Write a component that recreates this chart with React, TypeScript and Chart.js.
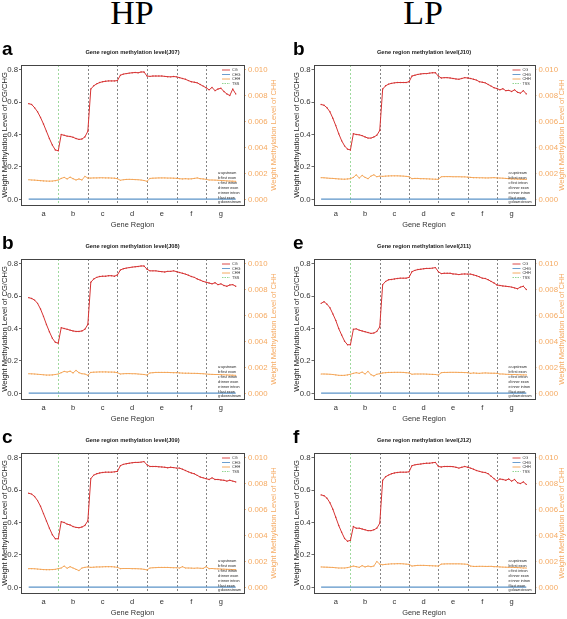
import React, { useEffect, useRef } from "react";
import { Chart, registerables } from "chart.js";
Chart.register(...registerables);

// ---------- data ----------
const REGION_LETTERS = ["a", "b", "c", "d", "e", "f", "g"];
const REGION_CENTERS = [50, 150, 250, 350, 450, 550, 650];
const REGION_BOUNDARIES = [200, 300, 400, 500, 600];
const TSS_POS = 100;
const REGION_KEY = ["a:upstream", "b:first exon", "c:first intron", "d:inner exon", "e:inner intron", "f:last exon", "g:downstream"];
const LEFT_TICKS = [0, 0.2, 0.4, 0.6, 0.8];
const RIGHT_TICKS = [0, 0.002, 0.004, 0.006, 0.008, 0.01];

const BIN_POS = [
  0, 10, 20, 30, 40, 50, 60, 70, 80, 90, 100,
  110, 120, 130, 140, 150, 160, 170, 180, 190, 200,
  210, 220, 230, 240, 250, 260, 270, 280, 290, 300,
  310, 320, 330, 340, 350, 360, 370, 380, 390, 400,
  410, 420, 430, 440, 450, 460, 470, 480, 490, 500,
  510, 520, 530, 540, 550, 560, 570, 580, 590, 600,
  610, 620, 630, 640, 650, 660, 670, 680, 690, 700,
];
const CHG_POS = [0, 100, 200, 300, 400, 500, 600, 700];

const CG_J07 = [
  0.590, 0.585, 0.565, 0.540, 0.505, 0.465, 0.420, 0.375, 0.335, 0.305, 0.300,
  0.400, 0.395, 0.390, 0.388, 0.383, 0.375, 0.370, 0.372, 0.385, 0.420,
  0.680, 0.700, 0.712, 0.720, 0.725, 0.728, 0.730, 0.730, 0.730, 0.732,
  0.765, 0.772, 0.775, 0.778, 0.780, 0.782, 0.780, 0.785, 0.785, 0.760,
  0.758, 0.760, 0.760, 0.760, 0.760, 0.758, 0.756, 0.755, 0.757, 0.755,
  0.750, 0.745, 0.740, 0.732, 0.725, 0.722, 0.718, 0.708, 0.698, 0.688,
  0.675, 0.690, 0.670, 0.680, 0.685, 0.665, 0.650, 0.640, 0.680, 0.650,
];
const CHH_J07 = [
  0.00152, 0.00150, 0.00149, 0.00147, 0.00145, 0.00143, 0.00142, 0.00141, 0.00142, 0.00145, 0.00150,
  0.00162, 0.00170, 0.00158, 0.00172, 0.00160, 0.00150, 0.00158, 0.00150, 0.00178, 0.00165,
  0.00165, 0.00166, 0.00166, 0.00167, 0.00167, 0.00166, 0.00166, 0.00165, 0.00164, 0.00160,
  0.00148, 0.00152, 0.00154, 0.00155, 0.00154, 0.00153, 0.00152, 0.00150, 0.00146, 0.00140,
  0.00162, 0.00164, 0.00165, 0.00166, 0.00166, 0.00166, 0.00165, 0.00165, 0.00164, 0.00163,
  0.00160, 0.00158, 0.00160, 0.00158, 0.00159, 0.00162, 0.00166, 0.00160, 0.00158, 0.00155,
  0.00150, 0.00150, 0.00149, 0.00148, 0.00146, 0.00145, 0.00143, 0.00142, 0.00141, 0.00140,
];
const CHG_J07 = [0.002, 0.002, 0.002, 0.002, 0.002, 0.002, 0.002, 0.002];

const CG_J08 = [
  0.590, 0.585, 0.575, 0.555, 0.520, 0.475, 0.425, 0.380, 0.340, 0.315, 0.310,
  0.405, 0.400, 0.395, 0.390, 0.385, 0.382, 0.382, 0.385, 0.395, 0.425,
  0.685, 0.705, 0.715, 0.720, 0.722, 0.722, 0.725, 0.725, 0.722, 0.730,
  0.760, 0.768, 0.772, 0.775, 0.778, 0.780, 0.782, 0.785, 0.785, 0.765,
  0.755, 0.755, 0.755, 0.752, 0.750, 0.748, 0.752, 0.752, 0.755, 0.750,
  0.745, 0.740, 0.735, 0.728, 0.720, 0.715, 0.705, 0.698, 0.690, 0.685,
  0.680, 0.675, 0.682, 0.670, 0.675, 0.665, 0.660, 0.668, 0.670, 0.660,
];
const CHH_J08 = [
  0.00152, 0.00151, 0.00150, 0.00148, 0.00146, 0.00144, 0.00142, 0.00142, 0.00143, 0.00146, 0.00150,
  0.00160, 0.00170, 0.00165, 0.00172, 0.00158, 0.00178, 0.00160, 0.00152, 0.00150, 0.00140,
  0.00162, 0.00164, 0.00165, 0.00166, 0.00166, 0.00166, 0.00165, 0.00165, 0.00164, 0.00160,
  0.00150, 0.00152, 0.00153, 0.00153, 0.00152, 0.00152, 0.00150, 0.00148, 0.00146, 0.00142,
  0.00158, 0.00160, 0.00162, 0.00162, 0.00162, 0.00162, 0.00162, 0.00161, 0.00160, 0.00160,
  0.00158, 0.00157, 0.00156, 0.00156, 0.00155, 0.00155, 0.00154, 0.00153, 0.00152, 0.00150,
  0.00148, 0.00147, 0.00146, 0.00146, 0.00145, 0.00144, 0.00143, 0.00142, 0.00141, 0.00140,
];
const CHG_J08 = [0.002, 0.002, 0.002, 0.002, 0.002, 0.002, 0.002, 0.002];

const CG_J09 = [
  0.580, 0.575, 0.560, 0.535, 0.500, 0.455, 0.410, 0.365, 0.325, 0.300, 0.300,
  0.405, 0.400, 0.390, 0.385, 0.375, 0.370, 0.368, 0.372, 0.382, 0.410,
  0.670, 0.692, 0.700, 0.705, 0.708, 0.710, 0.710, 0.710, 0.712, 0.715,
  0.750, 0.758, 0.762, 0.765, 0.768, 0.770, 0.770, 0.772, 0.775, 0.755,
  0.745, 0.745, 0.745, 0.743, 0.742, 0.740, 0.737, 0.740, 0.738, 0.735,
  0.735, 0.728, 0.720, 0.712, 0.705, 0.700, 0.690, 0.680, 0.675, 0.670,
  0.665, 0.675, 0.665, 0.665, 0.662, 0.660, 0.655, 0.660, 0.655, 0.650,
];
const CHH_J09 = [
  0.00145, 0.00145, 0.00144, 0.00142, 0.00140, 0.00138, 0.00137, 0.00137, 0.00138, 0.00140, 0.00145,
  0.00150, 0.00165, 0.00148, 0.00160, 0.00150, 0.00140, 0.00130, 0.00150, 0.00155, 0.00158,
  0.00155, 0.00156, 0.00158, 0.00158, 0.00159, 0.00160, 0.00160, 0.00160, 0.00158, 0.00155,
  0.00145, 0.00146, 0.00146, 0.00146, 0.00145, 0.00145, 0.00144, 0.00143, 0.00140, 0.00135,
  0.00150, 0.00152, 0.00153, 0.00154, 0.00154, 0.00154, 0.00154, 0.00153, 0.00152, 0.00152,
  0.00150, 0.00160, 0.00150, 0.00150, 0.00149, 0.00148, 0.00150, 0.00148, 0.00147, 0.00160,
  0.00145, 0.00146, 0.00144, 0.00143, 0.00142, 0.00141, 0.00140, 0.00139, 0.00138, 0.00138,
];
const CHG_J09 = [0.002, 0.002, 0.002, 0.002, 0.002, 0.002, 0.002, 0.002];

const CG_J10 = [
  0.585, 0.580, 0.565, 0.540, 0.500, 0.455, 0.405, 0.362, 0.330, 0.310, 0.305,
  0.405, 0.400, 0.398, 0.393, 0.385, 0.378, 0.378, 0.385, 0.395, 0.425,
  0.680, 0.700, 0.710, 0.715, 0.718, 0.720, 0.720, 0.720, 0.720, 0.725,
  0.760, 0.765, 0.770, 0.773, 0.775, 0.775, 0.778, 0.780, 0.780, 0.760,
  0.748, 0.750, 0.750, 0.748, 0.745, 0.742, 0.740, 0.745, 0.750, 0.748,
  0.745, 0.740, 0.735, 0.725, 0.722, 0.718, 0.708, 0.698, 0.688, 0.683,
  0.675, 0.682, 0.670, 0.672, 0.665, 0.675, 0.660, 0.655, 0.670, 0.650,
];
const CHH_J10 = [
  0.00168, 0.00167, 0.00165, 0.00163, 0.00162, 0.00160, 0.00158, 0.00157, 0.00156, 0.00158, 0.00160,
  0.00170, 0.00190, 0.00165, 0.00185, 0.00170, 0.00160, 0.00180, 0.00190, 0.00175, 0.00180,
  0.00178, 0.00180, 0.00181, 0.00182, 0.00182, 0.00182, 0.00181, 0.00180, 0.00178, 0.00175,
  0.00160, 0.00162, 0.00162, 0.00160, 0.00160, 0.00159, 0.00158, 0.00157, 0.00156, 0.00155,
  0.00175, 0.00176, 0.00176, 0.00176, 0.00175, 0.00175, 0.00175, 0.00174, 0.00174, 0.00172,
  0.00170, 0.00168, 0.00168, 0.00167, 0.00167, 0.00166, 0.00166, 0.00167, 0.00168, 0.00166,
  0.00165, 0.00164, 0.00162, 0.00160, 0.00158, 0.00158, 0.00157, 0.00156, 0.00155, 0.00155,
];
const CHG_J10 = [0.002, 0.002, 0.002, 0.002, 0.002, 0.002, 0.002, 0.002];

const CG_J11 = [
  0.555, 0.565, 0.550, 0.528, 0.490, 0.450, 0.400, 0.360, 0.322, 0.300, 0.300,
  0.395, 0.398, 0.390, 0.385, 0.380, 0.375, 0.370, 0.372, 0.382, 0.410,
  0.670, 0.690, 0.700, 0.702, 0.705, 0.708, 0.710, 0.710, 0.710, 0.715,
  0.750, 0.758, 0.763, 0.765, 0.768, 0.770, 0.770, 0.772, 0.775, 0.750,
  0.738, 0.740, 0.740, 0.740, 0.736, 0.735, 0.732, 0.735, 0.736, 0.735,
  0.735, 0.730, 0.725, 0.718, 0.710, 0.708, 0.700, 0.690, 0.680, 0.668,
  0.665, 0.662, 0.660, 0.658, 0.655, 0.650, 0.645, 0.655, 0.660, 0.640,
];
const CHH_J11 = [
  0.00150, 0.00150, 0.00149, 0.00148, 0.00146, 0.00143, 0.00140, 0.00139, 0.00140, 0.00143, 0.00148,
  0.00155, 0.00160, 0.00155, 0.00165, 0.00150, 0.00170, 0.00145, 0.00135, 0.00148, 0.00152,
  0.00158, 0.00160, 0.00162, 0.00162, 0.00163, 0.00163, 0.00163, 0.00162, 0.00160, 0.00158,
  0.00148, 0.00150, 0.00150, 0.00150, 0.00150, 0.00149, 0.00148, 0.00147, 0.00146, 0.00142,
  0.00160, 0.00162, 0.00162, 0.00163, 0.00163, 0.00163, 0.00162, 0.00162, 0.00161, 0.00160,
  0.00155, 0.00158, 0.00156, 0.00155, 0.00157, 0.00158, 0.00157, 0.00156, 0.00156, 0.00155,
  0.00150, 0.00150, 0.00148, 0.00147, 0.00146, 0.00146, 0.00145, 0.00144, 0.00143, 0.00143,
];
const CHG_J11 = [0.002, 0.002, 0.002, 0.002, 0.002, 0.002, 0.002, 0.002];

const CG_J12 = [
  0.570, 0.565, 0.550, 0.522, 0.482, 0.432, 0.382, 0.340, 0.302, 0.285, 0.290,
  0.375, 0.365, 0.365, 0.360, 0.355, 0.350, 0.350, 0.355, 0.365, 0.395,
  0.660, 0.682, 0.692, 0.700, 0.705, 0.708, 0.710, 0.710, 0.710, 0.712,
  0.750, 0.755, 0.758, 0.760, 0.763, 0.765, 0.765, 0.768, 0.770, 0.745,
  0.742, 0.745, 0.745, 0.745, 0.744, 0.740, 0.735, 0.740, 0.745, 0.740,
  0.735, 0.728, 0.720, 0.715, 0.710, 0.708, 0.700, 0.685, 0.670, 0.655,
  0.668, 0.665, 0.660, 0.668, 0.655, 0.665, 0.645, 0.640, 0.650, 0.635,
];
const CHH_J12 = [
  0.00158, 0.00157, 0.00156, 0.00155, 0.00154, 0.00152, 0.00150, 0.00150, 0.00150, 0.00153, 0.00158,
  0.00165, 0.00160, 0.00155, 0.00168, 0.00158, 0.00165, 0.00160, 0.00165, 0.00200, 0.00180,
  0.00175, 0.00178, 0.00180, 0.00182, 0.00182, 0.00183, 0.00183, 0.00182, 0.00180, 0.00178,
  0.00165, 0.00168, 0.00170, 0.00170, 0.00170, 0.00169, 0.00168, 0.00167, 0.00166, 0.00165,
  0.00180, 0.00181, 0.00182, 0.00182, 0.00182, 0.00182, 0.00182, 0.00181, 0.00180, 0.00178,
  0.00165, 0.00162, 0.00162, 0.00163, 0.00163, 0.00162, 0.00162, 0.00163, 0.00160, 0.00160,
  0.00158, 0.00157, 0.00156, 0.00155, 0.00155, 0.00154, 0.00153, 0.00152, 0.00150, 0.00150,
];
const CHG_J12 = [0.002, 0.002, 0.002, 0.002, 0.002, 0.002, 0.002, 0.002];

const PANELS = [
  { letter: "a", sample: "J07", col: 0, row: 0, cg: CG_J07, chh: CHH_J07, chg: CHG_J07 },
  { letter: "b", sample: "J08", col: 0, row: 1, cg: CG_J08, chh: CHH_J08, chg: CHG_J08 },
  { letter: "c", sample: "J09", col: 0, row: 2, cg: CG_J09, chh: CHH_J09, chg: CHG_J09 },
  { letter: "b", sample: "J10", col: 1, row: 0, cg: CG_J10, chh: CHH_J10, chg: CHG_J10 },
  { letter: "e", sample: "J11", col: 1, row: 1, cg: CG_J11, chh: CHH_J11, chg: CHG_J11 },
  { letter: "f", sample: "J12", col: 1, row: 2, cg: CG_J12, chh: CHH_J12, chg: CHG_J12 },
];

// ---------- style ----------
const FONT = "'Liberation Sans', Arial, sans-serif";
const RED = "#D63434";
const BLUE = "#5B93C8";
const ORANGE = "#F3A04E";
const ORANGE_TXT = "#F5AA62";
const GREEN = "#86D086";
const GREY = "#666";
const COL_LAYOUT = [
  { left: 0, width: 283, padL: 0, padR: 5, rightW: 34, letterX: 2 },
  { left: 283, width: 284, padL: 9.5, padR: 0.5, rightW: 32, letterX: 10 },
];
const ROW_TOPS = [38, 232, 426];
const CANVAS_H = 193;

function makeDecor(p: any) {
  return {
    id: "decor",
    beforeDatasetsDraw(chart: any) {
      const { ctx, chartArea: ca, scales } = chart;
      ctx.save();
      ctx.lineWidth = 0.8;
      ctx.setLineDash([2, 2]);
      ctx.strokeStyle = GREY;
      for (const b of REGION_BOUNDARIES) {
        const x = Math.round(scales.x.getPixelForValue(b)) + 0.5;
        ctx.beginPath();
        ctx.moveTo(x, ca.top);
        ctx.lineTo(x, ca.bottom);
        ctx.stroke();
      }
      ctx.strokeStyle = GREEN;
      const tx = Math.round(scales.x.getPixelForValue(TSS_POS)) + 0.5;
      ctx.beginPath();
      ctx.moveTo(tx, ca.top);
      ctx.lineTo(tx, ca.bottom);
      ctx.stroke();
      ctx.restore();
    },
    afterDraw(chart: any) {
      const { ctx, chartArea: ca, scales } = chart;
      ctx.save();
      // box
      ctx.strokeStyle = "#444";
      ctx.lineWidth = 1;
      ctx.setLineDash([]);
      ctx.strokeRect(Math.round(ca.left) + 0.5, Math.round(ca.top) + 0.5, Math.round(ca.right - ca.left), Math.round(ca.bottom - ca.top));
      // legend
      const entries = [
        { t: "CG", c: RED, d: [] as number[] },
        { t: "CHG", c: BLUE, d: [] as number[] },
        { t: "CHH", c: ORANGE, d: [] as number[] },
        { t: "TSS", c: GREEN, d: [1.5, 1] },
      ];
      const lx = ca.right - 22;
      ctx.font = `3.8px ${FONT}`;
      ctx.textBaseline = "middle";
      ctx.textAlign = "left";
      entries.forEach((e, i) => {
        const y = ca.top + 5 + i * 4.5;
        ctx.strokeStyle = e.c;
        ctx.lineWidth = 0.9;
        ctx.setLineDash(e.d);
        ctx.beginPath();
        ctx.moveTo(lx, y);
        ctx.lineTo(lx + 8, y);
        ctx.stroke();
        ctx.fillStyle = "#333";
        ctx.fillText(e.t, lx + 10, y);
      });
      ctx.setLineDash([]);
      // region key
      ctx.font = `3.7px ${FONT}`;
      ctx.fillStyle = "#222";
      REGION_KEY.forEach((t, i) => {
        ctx.fillText(t, ca.right - 26, ca.top + 108 + i * 4.9);
      });
      // title
      ctx.font = `bold 5.7px ${FONT}`;
      ctx.textAlign = "center";
      ctx.fillStyle = "#222";
      ctx.fillText(`Gene region methylation level(${p.sample})`, (ca.left + ca.right) / 2, 14.5);
      // panel letter
      ctx.font = `bold 19px ${FONT}`;
      ctx.textAlign = "left";
      ctx.textBaseline = "alphabetic";
      ctx.fillStyle = "#000";
      ctx.fillText(p.letter, COL_LAYOUT[p.col].letterX, 17);
      // right axis title
      ctx.font = `7.6px ${FONT}`;
      ctx.fillStyle = ORANGE_TXT;
      ctx.textAlign = "center";
      ctx.textBaseline = "middle";
      ctx.translate(scales.y2.right - 4.5, (ca.top + ca.bottom) / 2);
      ctx.rotate(-Math.PI / 2);
      ctx.fillText("Weight Methylation Level of CHH", 0, 0);
      ctx.restore();
    },
  };
}

function Panel({ p }: { p: any }) {
  const ref = useRef<HTMLCanvasElement>(null);
  const L = COL_LAYOUT[p.col];
  useEffect(() => {
    const chart = new Chart(ref.current as HTMLCanvasElement, {
      type: "line",
      data: {
        datasets: [
          {
            label: "CG",
            data: BIN_POS.map((x, i) => ({ x, y: p.cg[i] })),
            borderColor: RED,
            backgroundColor: RED,
            borderWidth: 1,
            pointRadius: 0.7,
            pointBorderWidth: 0,
            yAxisID: "y",
          },
          {
            label: "CHH",
            data: BIN_POS.map((x, i) => ({ x, y: p.chh[i] })),
            borderColor: ORANGE,
            backgroundColor: ORANGE,
            borderWidth: 0.9,
            pointRadius: 0.6,
            pointBorderWidth: 0,
            yAxisID: "y2",
          },
          {
            label: "CHG",
            data: CHG_POS.map((x, i) => ({ x, y: p.chg[i] })),
            borderColor: BLUE,
            backgroundColor: BLUE,
            borderWidth: 1.3,
            pointRadius: 0,
            yAxisID: "y",
          },
        ],
      },
      options: {
        animation: false,
        responsive: false,
        devicePixelRatio: 1,
        layout: { padding: { left: L.padL, right: L.padR, top: 27, bottom: 0 } },
        plugins: { legend: { display: false }, tooltip: { enabled: false }, title: { display: false } },
        events: [],
        scales: {
          x: {
            type: "linear",
            min: -26,
            max: 728,
            afterBuildTicks: (s: any) => {
              s.ticks = REGION_CENTERS.map((v) => ({ value: v }));
            },
            afterFit: (s: any) => {
              s.height = 26;
            },
            grid: { display: false, drawTicks: false, tickLength: 0 },
            border: { display: false },
            ticks: {
              callback: (v: any) => REGION_LETTERS[REGION_CENTERS.indexOf(Number(v))],
              font: { family: FONT, size: 7.5 },
              color: "#333",
              padding: 4.5,
              maxRotation: 0,
              autoSkip: false,
            },
            title: { display: true, text: "Gene Region", font: { family: FONT, size: 7.4 }, color: "#333", padding: { top: 0, bottom: 1.5 } },
          },
          y: {
            type: "linear",
            position: "left",
            min: -0.034,
            max: 0.828,
            afterBuildTicks: (s: any) => {
              s.ticks = LEFT_TICKS.map((v) => ({ value: v }));
            },
            afterFit: (s: any) => {
              s.width = 21;
            },
            grid: { drawOnChartArea: false, drawTicks: true, tickLength: 2, color: "#444", tickColor: "#444", tickWidth: 0.8 },
            border: { display: false },
            ticks: { callback: (v: any) => Number(v).toFixed(1), font: { family: FONT, size: 7.8 }, color: "#333", padding: 1 },
            title: {
              display: true,
              text: "Weight Methylation Level of CG/CHG",
              font: { family: FONT, size: 7.6 },
              color: "#222",
              padding: { top: 0, bottom: 0 },
            },
          },
          y2: {
            type: "linear",
            position: "right",
            min: -0.000425,
            max: 0.01035,
            afterBuildTicks: (s: any) => {
              s.ticks = RIGHT_TICKS.map((v) => ({ value: v }));
            },
            afterFit: (s: any) => {
              s.width = L.rightW;
            },
            grid: { drawOnChartArea: false, drawTicks: true, tickLength: 2, color: ORANGE_TXT, tickColor: ORANGE_TXT, tickWidth: 0.8 },
            border: { display: false },
            ticks: { callback: (v: any) => Number(v).toFixed(3), font: { family: FONT, size: 7.8 }, color: ORANGE_TXT, padding: 2 },
            title: { display: false },
          },
        },
      } as any,
      plugins: [makeDecor(p)],
    });
    return () => chart.destroy();
  }, []);
  return (
    <canvas
      ref={ref}
      width={L.width}
      height={CANVAS_H}
      style={{ position: "absolute", left: L.left, top: ROW_TOPS[p.row], width: L.width, height: CANVAS_H }}
    />
  );
}

export default function App() {
  const head: React.CSSProperties = {
    position: "absolute",
    top: -4.5,
    width: 200,
    textAlign: "center",
    fontFamily: "'Liberation Serif', 'Times New Roman', serif",
    fontSize: 34,
    lineHeight: "34px",
    color: "#000",
  };
  return (
    <div style={{ position: "absolute", left: 0, top: 0, width: 567, height: 619, background: "#fff", overflow: "hidden" }}>
      <div style={{ ...head, left: 132 - 100 }}>HP</div>
      <div style={{ ...head, left: 423 - 100 }}>LP</div>
      {PANELS.map((p, i) => (
        <Panel key={i} p={p} />
      ))}
    </div>
  );
}
